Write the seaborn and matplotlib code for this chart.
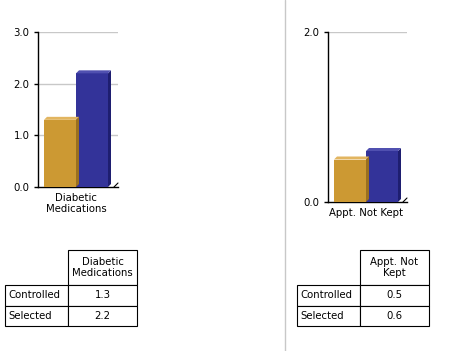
import matplotlib
matplotlib.use("Agg")
import matplotlib.pyplot as plt
from matplotlib.patches import Polygon
from matplotlib.transforms import IdentityTransform
from matplotlib.lines import Line2D
import seaborn as sns
import pandas as pd

sns.set_style("white")
plt.rcParams['font.family'] = ['DejaVu Sans']
plt.rcParams['text.color'] = 'black'
plt.rcParams['xtick.color'] = 'black'
plt.rcParams['ytick.color'] = 'black'

# ---- data ----
series = ["Controlled", "Selected"]
left_metric = "Diabetic\nMedications"
left_values = [1.3, 2.2]
left_ticks = [0.0, 1.0, 2.0, 3.0]
right_metric = "Appt. Not\nKept"
right_axis_label = "Appt. Not Kept"
right_values = [0.5, 0.6]
right_ticks = [0.0, 2.0]

front_colors = ["#CC9933", "#333399"]
top_colors = ["#E2B560", "#5050B0"]
side_colors = ["#9A7020", "#1E1E70"]

W, H = 463, 351
DPI = 100
FS = 7.3
fig = plt.figure(figsize=(W / DPI, H / DPI), dpi=DPI)
fig.patch.set_facecolor("white")


def px_axes(x0, y0, x1, y1):
    # pixel coords, y measured from top
    return fig.add_axes([x0 / W, (H - y1) / H, (x1 - x0) / W, (y1 - y0) / H])


def bar_chart(ax, label, values, ticks, xlim, grid_ticks):
    df = pd.DataFrame({"metric": [label] * len(values), "series": series, "value": values})
    sns.barplot(data=df, x="metric", y="value", hue="series", palette=front_colors,
                ax=ax, legend=False, saturation=1, width=0.8, linewidth=0, zorder=3)
    ax.set_xlim(*xlim)
    ax.set_ylim(ticks[0], ticks[-1])
    ax.set_yticks(ticks)
    ax.set_yticklabels([f"{t:.1f}" for t in ticks], fontsize=FS)
    ax.set_xlabel("")
    ax.set_ylabel("")
    ax.tick_params(axis="x", length=0, pad=4, labelsize=FS, labelcolor="black")
    ax.tick_params(axis="y", length=3, width=1, pad=3, direction="out", left=True,
                   color="black", labelcolor="black")
    for s in ["top", "right"]:
        ax.spines[s].set_visible(False)
    for s in ["left", "bottom"]:
        ax.spines[s].set_color("black")
        ax.spines[s].set_linewidth(1)
    for g in grid_ticks:
        ax.axhline(g, color="#C8C8C8", lw=1, zorder=1)
    ax.set_facecolor("white")
    # 3D faces from bar geometry
    d = 3
    for i, p in enumerate(ax.patches):
        x0, y0 = p.get_x(), p.get_y()
        x1, y1 = x0 + p.get_width(), y0 + p.get_height()
        (X0, Y0) = ax.transData.transform((x0, y0))
        (X1, Y1) = ax.transData.transform((x1, y1))
        side = Polygon([(X1, Y0), (X1 + d, Y0 + d), (X1 + d, Y1 + d), (X1, Y1)], closed=True,
                       facecolor=side_colors[i], edgecolor="none", transform=IdentityTransform(), zorder=4)
        top = Polygon([(X0, Y1), (X0 + d, Y1 + d), (X1 + d, Y1 + d), (X1, Y1)], closed=True,
                      facecolor=top_colors[i], edgecolor="none", transform=IdentityTransform(), zorder=4)
        fig.add_artist(side)
        fig.add_artist(top)
    # small 3D corner at right end of the floor
    (BX, BY) = ax.transAxes.transform((1, 0))
    fig.add_artist(Line2D([BX - 4, BX], [BY, BY + 4], color="black", lw=0.8,
                          transform=IdentityTransform()))


# left chart
axL = px_axes(38, 32, 118, 187)
bar_chart(axL, left_metric, left_values, left_ticks, (-0.475, 0.525), [1.0, 2.0, 3.0])

# right chart
axR = px_axes(328, 32, 407, 202)
bar_chart(axR, right_axis_label, right_values, right_ticks, (-0.475, 0.5125), [2.0])

# divider
fig.add_artist(Line2D([284.5 / W, 284.5 / W], [0, 1], color="#C8C8C8", lw=1))


def data_table(x0, y0, x1, y1, header, values):
    ax = px_axes(x0, y0, x1, y1)
    ax.axis("off")
    cells = [["", header]] + [[s, f"{v:.1f}"] for s, v in zip(series, values)]
    tbl = ax.table(cellText=cells, bbox=[0, 0, 1, 1], cellLoc="center")
    tbl.auto_set_font_size(False)
    for (r, c), cell in tbl.get_celld().items():
        cell.set_fontsize(FS)
        cell.set_linewidth(0.8)
        cell.set_edgecolor("black")
        cell.get_text().set_color("black")
        cell.set_height(35 if r == 0 else 20.5)
        cell.set_width(63 if c == 0 else 69)
        if c == 0:
            cell.get_text().set_horizontalalignment("left")
            cell.PAD = 0.05
        if r == 0 and c == 0:
            cell.visible_edges = ""
    return tbl


data_table(5, 250, 137, 326, left_metric, left_values)
data_table(297, 250, 429, 326, right_metric, right_values)

fig.savefig("out.png", dpi=DPI, facecolor="white")
